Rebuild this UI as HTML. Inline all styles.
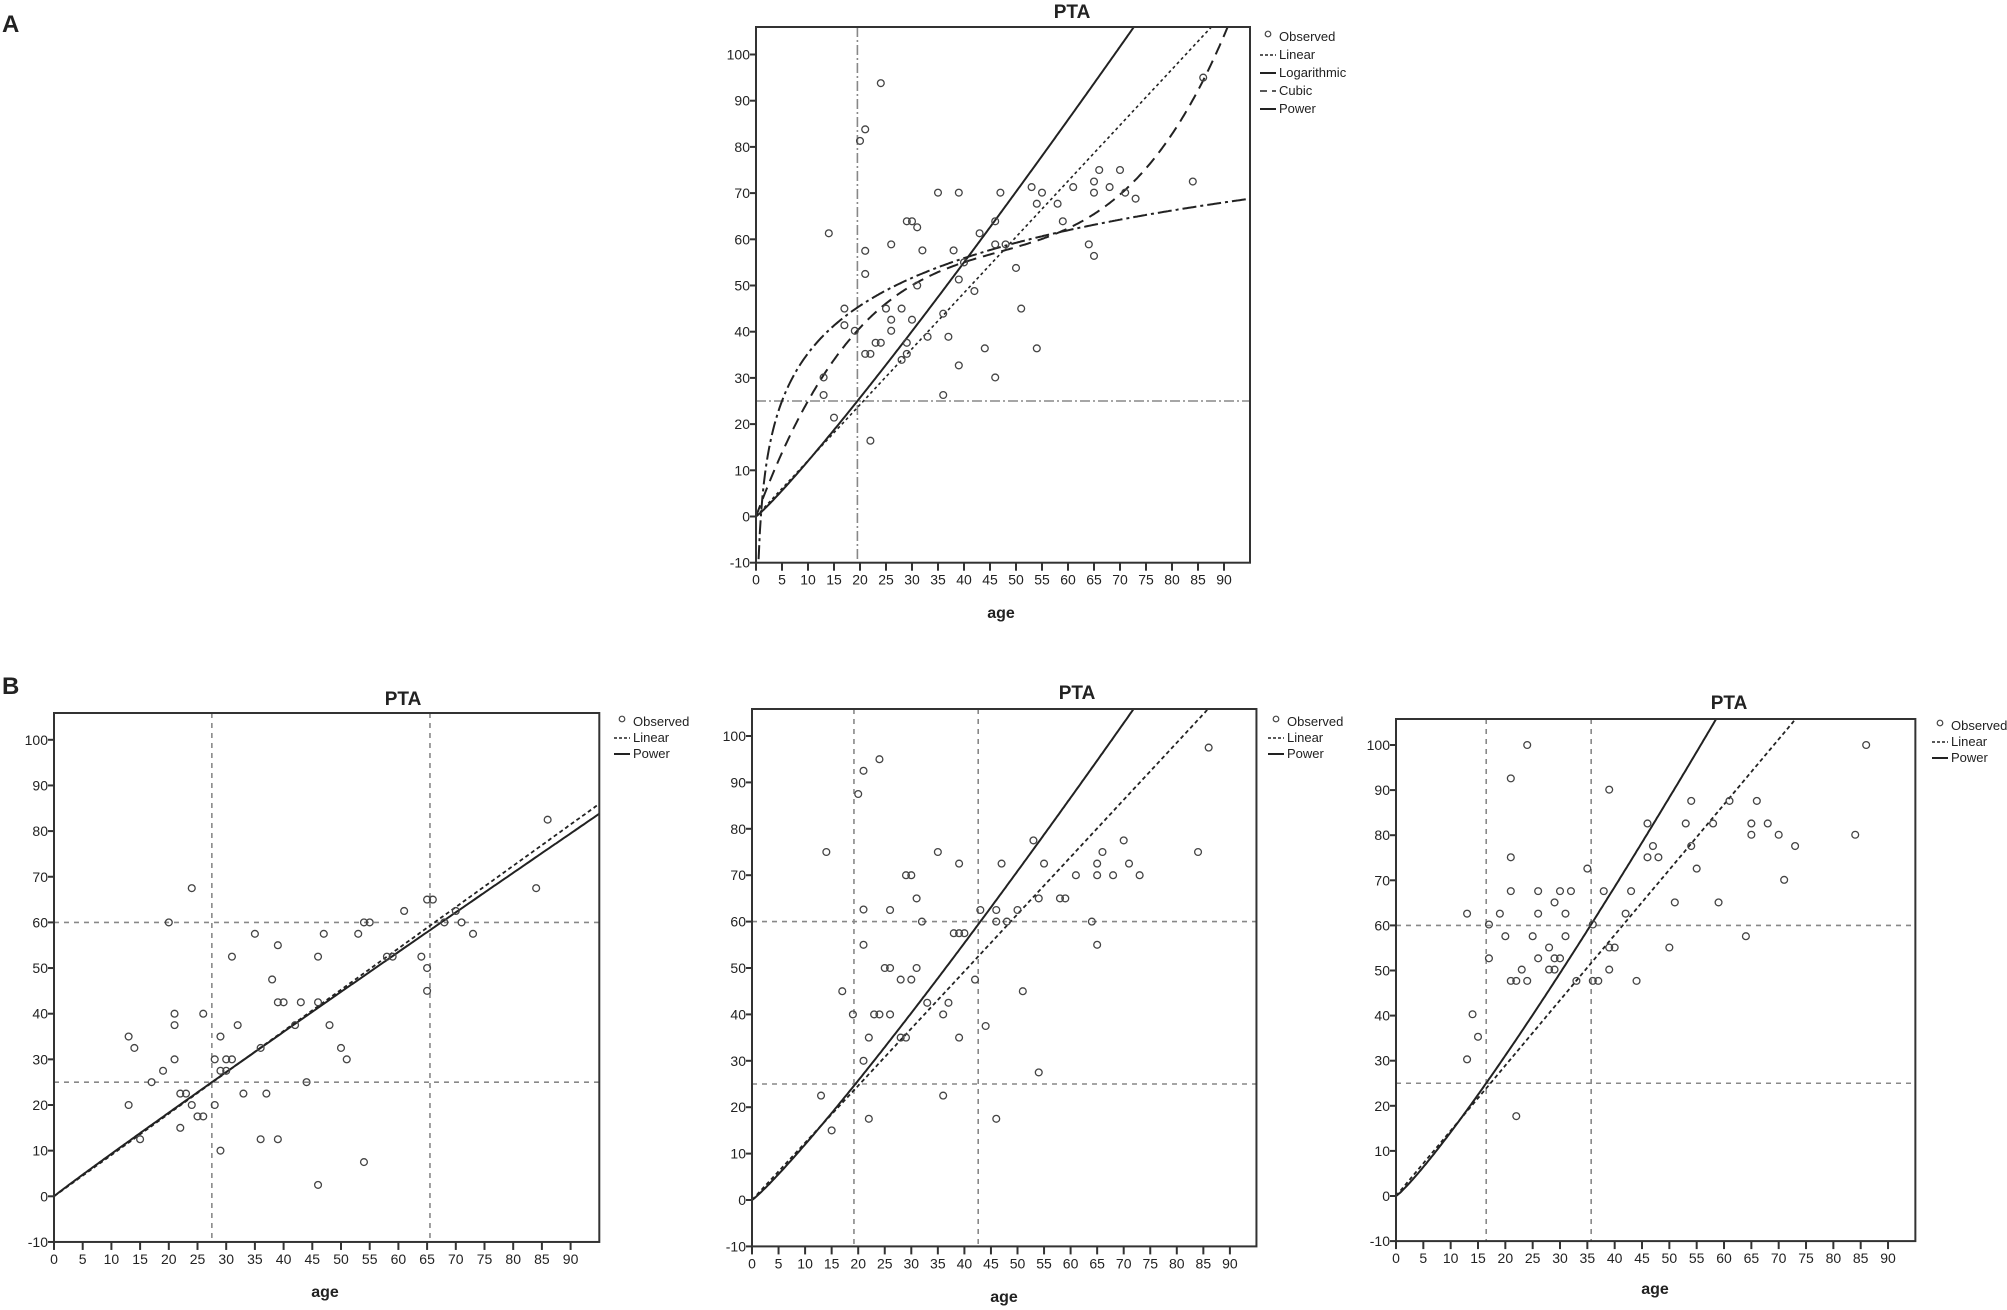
<!DOCTYPE html>
<html><head><meta charset="utf-8">
<style>
html,body{margin:0;padding:0;background:#fff;}
svg{display:block;}
text{font-family:"Liberation Sans Narrow","Liberation Sans",sans-serif;fill:#222;}
.b{font-family:"Liberation Sans",sans-serif;font-weight:bold;}
</style></head>
<body>
<svg id="s" width="2007" height="1310" xmlns="http://www.w3.org/2000/svg">
<text class="b" x="2" y="32" font-size="24">A</text>
<text class="b" x="2" y="694" font-size="24">B</text>
</svg>
<script>
var NS="http://www.w3.org/2000/svg",S=document.getElementById('s');
function el(t,a,p){var e=document.createElementNS(NS,t);for(var k in a)e.setAttribute(k,a[k]);(p||S).appendChild(e);return e;}
function txt(x,y,s,a){var e=el('text',Object.assign({x:x,y:y},a||{}));e.textContent=s;return e;}
var cid=0;
function chart(c){
  var X=function(v){return c.x0+v*c.xu;}, Y=function(v){return c.y0-v*c.yu;};
  var L=c.x0,R=X(95),T=c.top,B=Y(-10);
  var id='c'+(cid++);
  var cp=el('clipPath',{id:id});el('rect',{x:L,y:T,width:R-L,height:B-T},cp);
  // reference lines
  c.vref.forEach(function(v){el('line',{x1:X(v),x2:X(v),y1:T,y2:B,stroke:'#888','stroke-width':1.6,'stroke-dasharray':c.refdash});});
  c.href.forEach(function(v){el('line',{x1:L,x2:R,y1:Y(v),y2:Y(v),stroke:'#888','stroke-width':1.6,'stroke-dasharray':c.refdash});});
  // curves
  var g=el('g',{'clip-path':'url(#'+id+')'});
  c.curves.forEach(function(cv){
    var d='',st=true;
    for(var x=cv.from||0;x<=95.001;x+=0.25){var y=cv.f(x);d+=(st?'M':'L')+X(x).toFixed(1)+' '+Y(y).toFixed(1);st=false;}
    el('path',{d:d,fill:'none',stroke:'#222','stroke-width':cv.w||2,'stroke-dasharray':cv.dash||'none'},g);
  });
  // points
  c.pts.forEach(function(p){el('circle',{cx:X(p[0]),cy:Y(p[1]),r:3.4,fill:'none',stroke:'#444','stroke-width':1.3});});
  // box
  el('rect',{x:L,y:T,width:R-L,height:B-T,fill:'none',stroke:'#333','stroke-width':2});
  // ticks
  for(var v=-10;v<=100;v+=10){el('line',{x1:L-6,x2:L,y1:Y(v),y2:Y(v),stroke:'#333','stroke-width':2});
    txt(L-6,Y(v)+5,String(v),{'font-size':14,'text-anchor':'end'});}
  for(var v=0;v<=90;v+=5){el('line',{x1:X(v),x2:X(v),y1:B,y2:B+8,stroke:'#333','stroke-width':2});
    txt(X(v),B+22,String(v),{'font-size':14,'text-anchor':'middle'});}
  txt(c.tx,c.ty,'PTA',{'class':'b','font-size':19,'text-anchor':'middle'});
  txt(c.ax,c.ay,'age',{'class':'b','font-size':16,'text-anchor':'middle'});
  // legend
  c.leg.forEach(function(l,i){var y=c.ly+i*c.ld;
    if(l[1]=='o')el('circle',{cx:c.lx+8,cy:y-4,r:2.8,fill:'none',stroke:'#444','stroke-width':1.2});
    else el('line',{x1:c.lx,x2:c.lx+16,y1:y-1,y2:y-1,stroke:'#222','stroke-width':l[1]=='s'?2:1.5,'stroke-dasharray':l[1]=='s'?'none':l[1]});
    txt(c.lx+19,y+3,l[0],{'font-size':13});});
}
function pw(a,b){return function(x){return a*Math.pow(x,b);};}
function ln(k){return function(x){return k*x;};}
var A_pts=[[24,93.8],[20,81.3],[21,83.8],[14,61.3],[21,57.5],[21,52.5],[17,45],[17,41.4],[19,40.2],[13,30.1],[13,26.3],[15,21.4],[22,16.4],[21,35.2],[22,35.2],[23,37.6],[24,37.6],[25,45],[26,42.6],[26,40.2],[26,58.9],[28,45],[28,33.9],[29,37.6],[29,35.2],[29,63.9],[30,63.9],[31,62.6],[31,50],[30,42.6],[32,57.6],[33,38.9],[35,70.1],[36,43.9],[36,26.3],[37,38.9],[38,57.6],[39,70.1],[39,51.3],[39,32.7],[40,55],[42,48.8],[43,61.3],[44,36.4],[46,63.9],[46,58.9],[46,30.1],[47,70.1],[48,58.9],[50,53.8],[51,45],[53,71.3],[54,67.7],[54,36.4],[55,70.1],[58,67.7],[59,63.9],[61,71.3],[64,58.9],[65,56.4],[65,72.5],[65,70.1],[66,75],[68,71.3],[70,75],[71,70.1],[73,68.8],[84,72.5],[86,95]];
chart({x0:756,xu:5.2,y0:516.5,yu:4.62,top:27,vref:[19.5],href:[25],refdash:'10,3,2,3',
 pts:A_pts,
 curves:[{f:ln(1.21),dash:'3,3',w:1.6},{f:pw(0.958,1.098)},{f:function(x){return 1.07+14.87*Math.log(x);},from:0.5,dash:'14,4,3,4'},{f:function(x){return 3.041*x-0.0582*x*x+0.000414*x*x*x;},dash:'12,7'}],
 tx:1072,ty:18,ax:1001,ay:618,lx:1260,ly:38,ld:18,
 leg:[['Observed','o'],['Linear','3,2'],['Logarithmic','s'],['Cubic','7,5'],['Power','s']]});
var B1=[[13,35],[14,32.5],[13,20],[15,12.5],[17,25],[19,27.5],[20,60],[21,40],[21,37.5],[21,30],[22,22.5],[23,22.5],[22,15],[24,67.5],[24,20],[25,17.5],[26,17.5],[26,40],[28,30],[28,20],[29,35],[29,27.5],[29,10],[30,30],[30,27.5],[31,30],[31,52.5],[32,37.5],[33,22.5],[35,57.5],[36,32.5],[36,12.5],[37,22.5],[38,47.5],[39,55],[39,42.5],[40,42.5],[39,12.5],[42,37.5],[43,42.5],[44,25],[46,52.5],[46,42.5],[46,2.5],[47,57.5],[48,37.5],[50,32.5],[51,30],[53,57.5],[54,60],[55,60],[54,7.5],[58,52.5],[59,52.5],[61,62.5],[64,52.5],[65,65],[66,65],[65,50],[65,45],[68,60],[70,62.5],[71,60],[73,57.5],[84,67.5],[86,82.5]];
chart({x0:54,xu:5.74,y0:1196.3,yu:4.565,top:713,vref:[27.5,65.5],href:[25,60],refdash:'5,5',
 pts:B1,curves:[{f:ln(0.905),dash:'4,3',w:1.8},{f:pw(0.984,0.976)}],
 tx:403,ty:705,ax:325,ay:1297,lx:614,ly:723,ld:16,
 leg:[['Observed','o'],['Linear','3,2'],['Power','s']]});
var B2=[[14,75],[13,22.5],[15,15],[17,45],[19,40],[20,87.5],[21,92.5],[24,95],[21,62.6],[21,55],[21,30],[22,35],[22,17.5],[23,40],[24,40],[25,50],[26,50],[26,62.5],[26,40],[28,47.5],[28,35],[29,35],[29,70],[30,70],[30,47.5],[31,65],[31,50],[32,60],[33,42.5],[35,75],[36,40],[36,22.5],[37,42.5],[38,57.5],[39,57.5],[40,57.5],[39,72.5],[39,35],[42,47.5],[43,62.5],[44,37.5],[46,62.5],[46,60],[46,17.5],[47,72.5],[48,60],[50,62.5],[51,45],[53,77.5],[54,65],[54,27.5],[55,72.5],[58,65],[59,65],[61,70],[64,60],[65,72.5],[65,70],[65,55],[66,75],[68,70],[70,77.5],[71,72.5],[73,70],[84,75],[86,97.5]];
chart({x0:752,xu:5.31,y0:1200,yu:4.64,top:709,vref:[19.2,42.6],href:[25,60],refdash:'5,5',
 pts:B2,curves:[{f:ln(1.232),dash:'4,3',w:1.8},{f:pw(0.94,1.105)}],
 tx:1077,ty:699,ax:1004,ay:1302,lx:1268,ly:723,ld:16,
 leg:[['Observed','o'],['Linear','3,2'],['Power','s']]});
var B3=[[13,62.6],[13,30.3],[14,40.3],[15,35.3],[17,60.2],[17,52.7],[19,62.6],[20,57.6],[21,92.6],[21,75.1],[21,67.6],[21,47.7],[22,47.7],[22,17.7],[23,50.2],[24,100],[24,47.7],[25,57.6],[26,67.6],[26,62.6],[26,52.7],[28,55.1],[28,50.2],[29,65.1],[29,52.7],[29,50.2],[30,67.6],[30,52.7],[31,62.6],[31,57.6],[32,67.6],[33,47.7],[35,72.6],[36,60.2],[36,47.7],[37,47.7],[38,67.6],[39,90.1],[39,55.1],[39,50.2],[40,55.1],[42,62.6],[43,67.6],[44,47.7],[46,82.6],[46,75.1],[47,77.6],[48,75.1],[50,55.1],[51,65.1],[53,82.6],[54,87.6],[54,77.6],[55,72.6],[58,82.6],[59,65.1],[61,87.6],[64,57.6],[65,82.6],[65,80.1],[66,87.6],[68,82.6],[70,80.1],[71,70.1],[73,77.6],[84,80.1],[86,100]];
chart({x0:1396,xu:5.467,y0:1196,yu:4.51,top:719,vref:[16.5,35.7],href:[25,60],refdash:'5,5',
 pts:B3,curves:[{f:ln(1.447),dash:'4,3',w:1.8},{f:pw(1.03,1.138)}],
 tx:1729,ty:709,ax:1655,ay:1294,lx:1932,ly:727,ld:16,
 leg:[['Observed','o'],['Linear','3,2'],['Power','s']]});
</script>
</body></html>
